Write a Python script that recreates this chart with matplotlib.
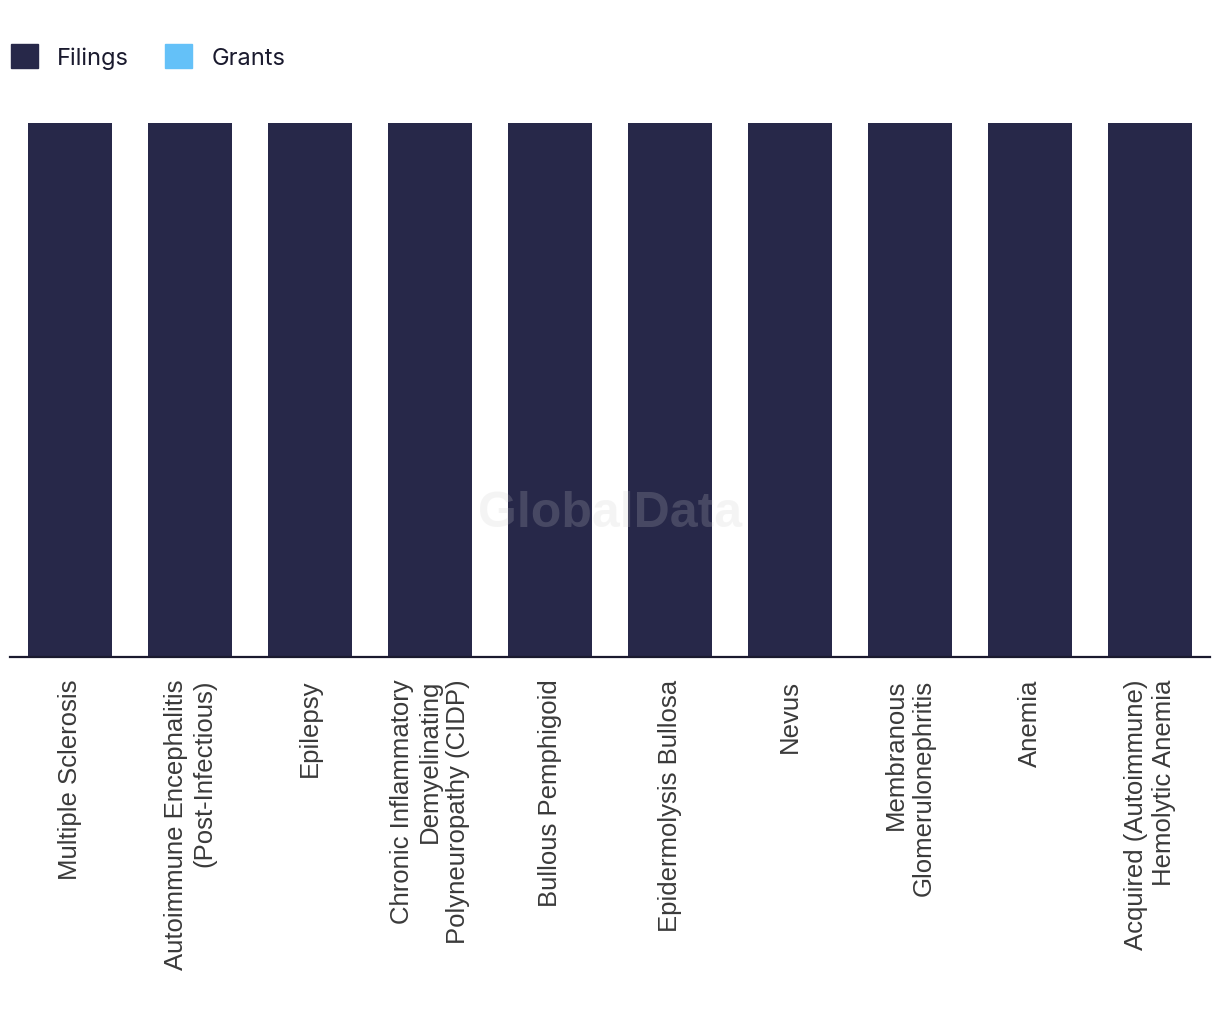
import matplotlib.pyplot as plt
from matplotlib.patches import Patch

# categories and values (all filings equal, no grants)
categories = [
    'Multiple Sclerosis',
    'Autoimmune Encephalitis\n(Post-Infectious)',
    'Epilepsy',
    'Chronic Inflammatory\nDemyelinating\nPolyneuropathy (CIDP)',
    'Bullous Pemphigoid',
    'Epidermolysis Bullosa',
    'Nevus',
    'Membranous\nGlomerulonephritis',
    'Anemia',
    'Acquired (Autoimmune)\nHemolytic Anemia',
]
filings = [1, 1, 1, 1, 1, 1, 1, 1, 1, 1]
grants = [0, 0, 0, 0, 0, 0, 0, 0, 0, 0]

col_filings = '#272849'
col_grants = '#64c1f8'

fig = plt.figure(figsize=(12.2, 10.2), dpi=100)
ax = fig.add_axes([10 / 1220, 1 - 658 / 1020, 1200 / 1220, (658 - 124) / 1020])

x = list(range(len(categories)))
ax.bar(x, filings, width=0.7, color=col_filings)
ax.bar(x, grants, width=0.7, bottom=filings, color=col_grants)

ax.set_xlim(-0.5, len(categories) - 0.5)
ax.set_ylim(0, max(f + g for f, g in zip(filings, grants)))

for s in ['top', 'right', 'left']:
    ax.spines[s].set_visible(False)
ax.spines['bottom'].set_color('#1a1a2e')
ax.spines['bottom'].set_linewidth(1.6)
ax.set_yticks([])
ax.set_xticks(x)
ax.set_xticklabels(categories, rotation=90, ha='center', va='top',
                   multialignment='right', fontsize=18.5, color='#3a3a3a',
                   family='Liberation Sans', linespacing=1.2)
ax.tick_params(axis='x', length=0, pad=15.5)

# watermark
ax.text(0.5, 0.27, 'GlobalData', transform=ax.transAxes, ha='center', va='center',
        fontsize=36, fontweight='bold', family='Liberation Sans',
        color='#cccccc', alpha=0.2)

handles = [Patch(color=col_filings, label='Filings'),
           Patch(color=col_grants, label='Grants')]
fig.legend(handles=handles, loc='upper left', bbox_to_anchor=(0.001, 1 - 36 / 1020),
           ncol=2, frameon=False, handlelength=1.15, handleheight=1.15,
           handletextpad=0.8, columnspacing=1.55, borderaxespad=0, borderpad=0.4,
           labelcolor='#1a1a2e', prop={'family': 'Inter', 'size': 17})

fig.savefig('out.png', dpi=100)
